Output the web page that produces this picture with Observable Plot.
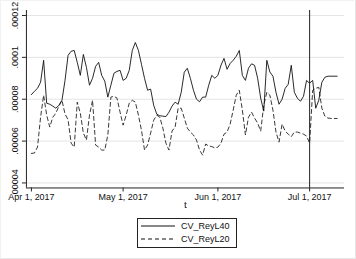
<!DOCTYPE html>
<html>
<head>
<meta charset="utf-8">
<script src="https://cdn.jsdelivr.net/npm/d3@7"></script>
<script src="https://cdn.jsdelivr.net/npm/@observablehq/plot@0.6"></script>
<style>
  html, body { margin: 0; padding: 0; background: #fff; }
  #wrap { position: relative; width: 354px; height: 257px; border: 1px solid #e6e6e6; border-top-color:#f2f2f2; border-left-color:#f2f2f2; overflow: hidden; font-family: "Liberation Sans", Arial, sans-serif; }
  #chart { position: absolute; left: -1px; top: -1px; }
  #legend { position: absolute; left: 136px; top: 217px; width: 98px; height: 28px; border: 1px solid #222; background: #fff; font-size: 9px; color: #111; }
  .row { position: absolute; left: 0; height: 12px; display: flex; align-items: center; }
  .row svg { margin-left: 3px; }
  .row span { margin-left: 6px; }
</style>
</head>
<body>
<div id="wrap">
  <div id="chart"></div>
  <div id="legend"></div>
</div>
<script>
// ---- data (daily, starting Apr 1, 2017) ----
const startDate = "2017-04-01";
const seriesNames = ["CV_ReyL40", "CV_ReyL20"];
const cvReyL40 = [
  8.22e-5, 8.38e-5, 8.52e-5, 8.81e-5, 9.86e-5, 7.81e-5, 7.76e-5, 7.67e-5, 7.57e-5, 7.71e-5,
  7.95e-5, 8.90e-5, 10.10e-5, 10.29e-5, 10.33e-5, 9.76e-5, 9.14e-5, 10.14e-5, 9.52e-5, 8.67e-5,
  9.00e-5, 9.57e-5, 9.76e-5, 9.14e-5, 8.86e-5, 8.10e-5, 8.67e-5, 9.24e-5, 9.33e-5, 9.38e-5,
  8.90e-5, 9.00e-5, 9.38e-5, 10.33e-5, 10.71e-5, 10.33e-5, 9.67e-5, 9.00e-5, 8.43e-5, 8.48e-5,
  7.71e-5, 7.29e-5, 7.21e-5, 7.19e-5, 7.17e-5, 7.38e-5, 7.67e-5, 7.86e-5, 7.76e-5, 8.33e-5,
  9.29e-5, 9.48e-5, 9.00e-5, 8.43e-5, 8.00e-5, 7.88e-5, 8.10e-5, 8.10e-5, 8.67e-5, 9.14e-5,
  9.00e-5, 9.14e-5, 9.62e-5, 9.95e-5, 9.43e-5, 9.71e-5, 9.86e-5, 10.05e-5, 10.33e-5, 9.14e-5,
  8.90e-5, 9.48e-5, 9.69e-5, 9.62e-5, 9.00e-5, 8.05e-5, 7.43e-5, 9.86e-5, 9.30e-5, 9.10e-5,
  8.33e-5, 7.76e-5, 8.00e-5, 8.52e-5, 8.71e-5, 9.62e-5, 8.33e-5, 8.05e-5, 7.90e-5, 8.14e-5,
  8.90e-5, 8.76e-5, 8.90e-5, 7.57e-5, 7.95e-5, 8.81e-5, 9.05e-5, 9.10e-5, 9.10e-5, 9.10e-5,
  9.10e-5
];
const cvReyL20 = [
  5.41e-5, 5.43e-5, 5.71e-5, 7.14e-5, 8.19e-5, 7.24e-5, 6.67e-5, 7.14e-5, 7.33e-5, 7.67e-5,
  7.95e-5, 7.29e-5, 7.02e-5, 5.90e-5, 5.71e-5, 7.86e-5, 7.33e-5, 6.38e-5, 6.05e-5, 7.24e-5,
  7.95e-5, 5.81e-5, 5.71e-5, 5.57e-5, 5.57e-5, 6.29e-5, 8.10e-5, 8.14e-5, 8.05e-5, 7.38e-5,
  6.76e-5, 7.24e-5, 7.81e-5, 7.95e-5, 7.86e-5, 7.24e-5, 6.52e-5, 5.57e-5, 5.81e-5, 6.38e-5,
  7.00e-5, 7.24e-5, 7.14e-5, 6.62e-5, 5.90e-5, 5.57e-5, 6.48e-5, 6.67e-5, 7.57e-5, 7.57e-5,
  7.10e-5, 6.62e-5, 6.43e-5, 6.29e-5, 6.05e-5, 5.57e-5, 5.33e-5, 5.86e-5, 5.76e-5, 5.74e-5,
  5.67e-5, 5.71e-5, 5.90e-5, 6.33e-5, 6.43e-5, 6.81e-5, 7.48e-5, 8.19e-5, 8.43e-5, 7.48e-5,
  6.29e-5, 7.14e-5, 7.38e-5, 7.10e-5, 6.86e-5, 6.48e-5, 7.71e-5, 8.33e-5, 8.19e-5, 7.48e-5,
  6.43e-5, 5.95e-5, 6.81e-5, 6.48e-5, 6.33e-5, 6.21e-5, 6.43e-5, 6.43e-5, 6.38e-5, 6.33e-5,
  6.24e-5, 5.90e-5, 8.43e-5, 8.52e-5, 8.57e-5, 7.57e-5, 7.19e-5, 7.10e-5, 7.08e-5, 7.08e-5,
  7.08e-5
];
const yTicks = [0.00004, 0.00006, 0.00008, 0.0001, 0.00012];
const yTickLabels = [".00004", ".00006", ".00008", ".0001", ".00012"];
const xTickDates = ["2017-04-01", "2017-05-01", "2017-06-01", "2017-07-01"];
const xTickLabels = ["Apr 1, 2017", "May 1, 2017", "Jun 1, 2017", "Jul 1, 2017"];
const markerDate = "2017-07-01";
const xDomain = ["2017-03-30T09:00:00Z", "2017-07-12T10:00:00Z"];
const yDomain = [3.76e-5, 12.24e-5];

// ---- build table ----
const day0 = new Date(startDate + "T00:00:00Z");
const dateAt = i => new Date(day0.getTime() + i * 86400000);
const rows40 = cvReyL40.map((v, i) => ({t: dateAt(i), v, s: seriesNames[0]}));
const rows20 = cvReyL20.map((v, i) => ({t: dateAt(i), v, s: seriesNames[1]}));
const xt = xTickDates.map(d => new Date(d + "T00:00:00Z"));
const xd = xDomain.map(d => new Date(d));
const labelOf = new Map(xt.map((d, i) => [+d, xTickLabels[i]]));
const yLabelOf = new Map(yTicks.map((d, i) => [d, yTickLabels[i]]));

const chart = Plot.plot({
  width: 356,
  height: 214,
  marginLeft: 26,
  marginRight: 11,
  marginTop: 10,
  marginBottom: 26,
  style: {fontFamily: "Liberation Sans, Arial, sans-serif", fontSize: "9px", color: "#111", background: "transparent"},
  x: {type: "utc", domain: xd},
  y: {domain: yDomain},
  marks: [
    Plot.ruleY(yTicks, {stroke: "#e4e4e4", strokeWidth: 1}),
    Plot.line(rows20, {x: "t", y: "v", stroke: "#222", strokeWidth: 0.9, strokeDasharray: "4,3"}),
    Plot.line(rows40, {x: "t", y: "v", stroke: "#111", strokeWidth: 0.9}),
    Plot.ruleX([new Date(markerDate + "T00:00:00Z")], {stroke: "#222", strokeWidth: 1}),
    Plot.ruleX([xd[0]], {stroke: "#222", strokeWidth: 1}),
    Plot.ruleY([yDomain[0]], {stroke: "#222", strokeWidth: 1}),
    Plot.axisY({ticks: yTicks, tickSize: 4, tickFormat: () => "", label: null, stroke: "#222"}),
    Plot.text(yTicks, {y: d => d, text: d => yLabelOf.get(d), frameAnchor: "left", dx: -11, rotate: -90, textAnchor: "middle", fill: "#111", fontSize: 9}),
    Plot.axisX({ticks: xt, tickSize: 4, tickPadding: 2, tickFormat: d => labelOf.get(+d), label: null, stroke: "#222", fill: "#111"}),
    Plot.text(["t"], {frameAnchor: "bottom", dy: 20, text: d => d, fill: "#111", fontSize: 10})
  ]
});
document.getElementById("chart").appendChild(chart);

// legend
const legend = document.getElementById("legend");
const dashes = [null, "4,3"];
seriesNames.forEach((name, i) => {
  const row = document.createElement("div");
  row.className = "row";
  row.style.top = (1 + i * 13) + "px";
  row.innerHTML = `<svg width="34" height="4"><line x1="0" y1="2" x2="34" y2="2" stroke="#111" stroke-width="1" ${dashes[i] ? `stroke-dasharray="${dashes[i]}"` : ""}/></svg><span>${name}</span>`;
  legend.appendChild(row);
});
</script>
</body>
</html>
